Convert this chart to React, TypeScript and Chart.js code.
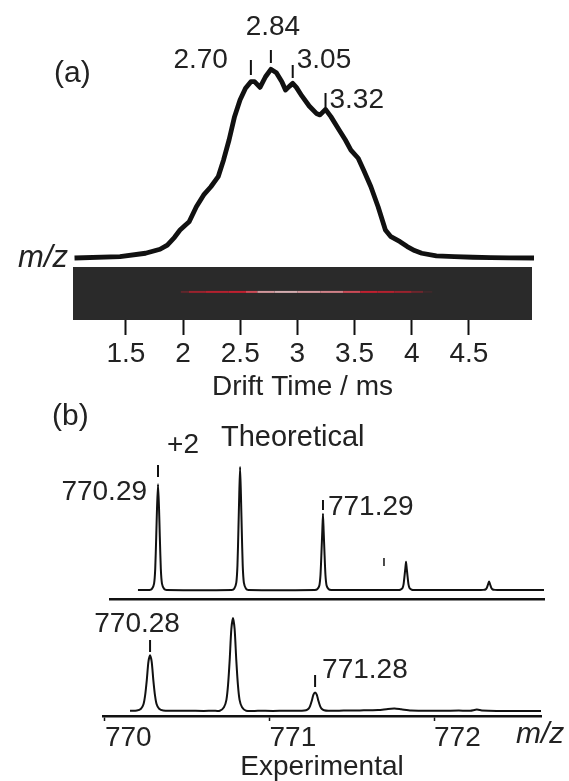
import React, { useEffect, useRef } from "react";
import { Chart, registerables } from "chart.js";

Chart.register(...registerables);

const FONT = "'Liberation Sans', Arial, Helvetica, sans-serif";
const TEXT = "#222";
const INK = "#111";
const W = 569;
const H = 781;

// ---------- Panel (a): drift-time profile ----------
const driftTimes = [
  1.05, 1.448, 1.671, 1.798, 1.862, 1.925, 1.973, 2.021, 2.053, 2.116,
  2.18, 2.243, 2.307, 2.354, 2.402, 2.45, 2.498, 2.546, 2.593, 2.625,
  2.673, 2.721, 2.768, 2.816, 2.864, 2.896, 2.927, 2.959, 2.991, 3.039,
  3.103, 3.166, 3.198, 3.246, 3.293, 3.357, 3.42, 3.468, 3.532, 3.579,
  3.643, 3.706, 3.77, 3.818, 3.898, 3.961, 4.025, 4.088, 4.216, 4.374,
  4.534, 4.693, 4.852, 5.07,
];
const driftIntensity = [
  0, 0.7, 2.5, 4.6, 6.8, 10.9, 14.7, 17.4, 19.1, 27.0,
  33.2, 37.5, 42.8, 51.6, 62.1, 74.4, 83.2, 89.3, 92.8, 92.8,
  89.8, 95.4, 99.3, 97.5, 92.8, 88.4, 90.2, 91.9, 89.8, 85.3,
  80.0, 76.1, 75.3, 78.2, 74.4, 68.2, 62.1, 56.8, 52.5, 46.3,
  37.5, 27.0, 14.7, 11.2, 8.6, 6.0, 3.9, 2.5, 1.1, 0.7,
  0.4, 0.2, 0.1, 0,
];
const driftTicks = [1.5, 2, 2.5, 3, 3.5, 4, 4.5];
const driftPeakLabels = ["2.70", "2.84", "3.05", "3.32"];
const driftPeakTimes = [2.593, 2.768, 2.959, 3.246];

// heat-map strip (m/z vs drift time image)
const heatTimes = [1.98, 2.05, 2.2, 2.4, 2.55, 2.65, 2.8, 3.0, 3.2, 3.4, 3.55, 3.7, 3.85, 4.0, 4.1, 4.18];
const heatLevels = [0.05, 0.35, 0.5, 0.55, 0.6, 0.8, 0.95, 0.9, 0.85, 0.8, 0.6, 0.55, 0.5, 0.35, 0.15, 0];

// ---------- Panel (b): isotope patterns ----------
const theoMz = [
  770.2,
  770.27, 770.285, 770.298, 770.305, 770.311, 770.316, 770.322, 770.328, 770.333, 770.339, 770.346, 770.359, 770.374,
  770.77, 770.785, 770.798, 770.805, 770.811, 770.816, 770.821, 770.826, 770.831, 770.837, 770.844, 770.857, 770.872,
  771.275, 771.29, 771.303, 771.31, 771.316, 771.321, 771.325, 771.329, 771.334, 771.34, 771.347, 771.36, 771.375,
  771.78, 771.795, 771.808, 771.815, 771.821, 771.826, 771.83, 771.834, 771.839, 771.845, 771.852, 771.865, 771.88,
  772.285, 772.3, 772.313, 772.32, 772.326, 772.331, 772.335, 772.339, 772.344, 772.35, 772.357, 772.37, 772.385,
  772.669,
];
const theoIntensity = [
  0,
  0, 0.9, 5.2, 17.2, 43, 67, 86, 67, 43, 17.2, 5.2, 0.9, 0,
  0, 1, 6, 20, 50, 78, 100, 78, 50, 20, 6, 1, 0,
  0, 0.6, 3.7, 12.4, 31, 48.4, 62, 48.4, 31, 12.4, 3.7, 0.6, 0,
  0, 0.2, 1.4, 4.6, 11.5, 17.9, 23, 17.9, 11.5, 4.6, 1.4, 0.2, 0,
  0, 0.1, 0.4, 1.4, 3.5, 5.5, 7, 5.5, 3.5, 1.4, 0.4, 0.1, 0,
  0,
];
const expMz = [
  770.152,
  770.194, 770.219, 770.234, 770.244, 770.254, 770.264, 770.274, 770.284, 770.294, 770.304, 770.314, 770.329, 770.354,
  770.42, 770.5, 770.6, 770.66,
  770.698, 770.723, 770.738, 770.748, 770.758, 770.768, 770.778, 770.788, 770.798, 770.808, 770.818, 770.833, 770.858,
  770.93, 771.02, 771.1, 771.16,
  771.197, 771.222, 771.237, 771.247, 771.257, 771.267, 771.277, 771.287, 771.297, 771.307, 771.317, 771.332, 771.357,
  771.45, 771.55, 771.66, 771.72, 771.76, 771.8, 771.86, 771.95, 772.05, 772.15, 772.22, 772.26, 772.29, 772.38, 772.5, 772.65,
];
const expIntensity = [
  0.3,
  0.5, 2.4, 7.2, 16.8, 33, 52.8, 60, 52.8, 33, 16.8, 7.2, 2.4, 0.5,
  0.3, 0.2, 0.1, 0.2,
  0.3, 4, 12, 28, 55, 88, 100, 88, 55, 28, 12, 4, 0.3,
  0.2, 0.1, 0.3, 0.2,
  0.2, 0.8, 2.4, 5.6, 11, 17.6, 20, 17.6, 11, 5.6, 2.4, 0.8, 0.2,
  0.4, 0.6, 1.0, 2.2, 2.6, 1.8, 0.5, 0.3, 0.2, 0.4, 0.3, 1.5, 0.6, 0.0, 0.1, 0.0,
];
const mzTicks = [770, 771, 772];
const theoPeakLabels = ["770.29", "771.29"];
const theoPeakMz = [770.322, 771.325];
const expPeakLabels = ["770.28", "771.28"];
const expPeakMz = [770.274, 771.277];
const strayMarkMz = 771.696;

// ---------- helpers ----------
const font = (size: number, style = "") => `${style} ${size}px ${FONT}`.trim();

function mix(a: number[], b: number[], f: number) {
  const c = a.map((v, i) => Math.round(v + (b[i] - v) * Math.max(0, Math.min(1, f))));
  return `rgb(${c[0]},${c[1]},${c[2]})`;
}
function heatColor(l: number) {
  const dark = [42, 42, 42];
  const red = [200, 32, 48];
  const light = [215, 205, 205];
  return l < 0.6 ? mix(dark, red, l / 0.6) : mix(red, light, (l - 0.6) / 0.4);
}

function vDash(ctx: CanvasRenderingContext2D, x: number, y0: number, y1: number) {
  ctx.beginPath();
  ctx.moveTo(x, y0);
  ctx.lineTo(x, y1);
  ctx.stroke();
}

const baseOptions = (padding: any, scales: any) => ({
  responsive: false,
  animation: false,
  events: [],
  layout: { padding },
  plugins: { legend: { display: false }, tooltip: { enabled: false }, title: { display: false } },
  scales,
});

// ---------- chart configs ----------
function makeCurve() {
  const annot = {
    id: "annotA",
    afterDatasetsDraw(chart: any) {
      const { ctx } = chart;
      const x = chart.scales.x;
      const y = chart.scales.y;
      ctx.save();
      ctx.fillStyle = TEXT;
      ctx.strokeStyle = INK;
      ctx.lineWidth = 2;
      ctx.textBaseline = "middle";
      ctx.font = font(30);
      ctx.textAlign = "left";
      ctx.fillText("(a)", 54, 74);
      ctx.font = font(31, "italic");
      ctx.textAlign = "right";
      ctx.fillText("m/z", 68, y.getPixelForValue(0));
      ctx.font = font(28);
      const layout = [
        { d0: 60, d1: 75, dx: -23, ty: 60, align: "right" },
        { d0: 50, d1: 63, dx: 2, ty: 27, align: "center" },
        { d0: 65, d1: 78, dx: 4, ty: 60, align: "left" },
        { d0: 93, d1: 107, dx: 4, ty: 100, align: "left" },
      ];
      driftPeakTimes.forEach((t, i) => {
        const px = x.getPixelForValue(t);
        const L = layout[i];
        vDash(ctx, px, L.d0, L.d1);
        ctx.textAlign = L.align;
        ctx.fillText(driftPeakLabels[i], px + L.dx, L.ty);
      });
      ctx.restore();
    },
  };
  return {
    type: "line",
    data: {
      datasets: [
        {
          data: driftTimes.map((t, i) => ({ x: t, y: driftIntensity[i] })),
          borderColor: INK,
          borderWidth: 4.8,
          pointRadius: 0,
          tension: 0,
          clip: false,
          borderJoinStyle: "round",
        },
      ],
    },
    options: baseOptions(
      { left: 73, right: W - 534, top: 68, bottom: H - 258 },
      {
        x: { type: "linear", display: false, min: 1.0367, max: 5.07 },
        y: { display: false, min: 0, max: 100 },
      }
    ),
    plugins: [annot],
  };
}

function makeHeat() {
  const bg = {
    id: "heatBg",
    beforeDatasetsDraw(chart: any) {
      const { ctx, chartArea: a } = chart;
      ctx.save();
      ctx.fillStyle = "#2a2a2a";
      ctx.fillRect(a.left, a.top, a.right - a.left, a.bottom - a.top);
      ctx.restore();
    },
  };
  return {
    type: "line",
    data: {
      datasets: [
        {
          data: heatTimes.map((t) => ({ x: t, y: 0.53 })),
          borderWidth: 2,
          borderColor: "rgb(200,32,48)",
          pointRadius: 0,
          segment: {
            borderColor: (c: any) => heatColor((heatLevels[c.p0DataIndex] + heatLevels[c.p1DataIndex]) / 2),
          },
        },
      ],
    },
    options: baseOptions(
      { left: 73, right: W - 532, top: 267, bottom: H - 406 },
      {
        x: {
          type: "linear",
          min: 1.0367,
          max: 5.0525,
          position: "bottom",
          afterBuildTicks: (s: any) => {
            s.ticks = driftTicks.map((v) => ({ value: v }));
          },
          afterFit: (s: any) => {
            s.height = 86;
          },
          grid: { display: true, drawOnChartArea: false, drawTicks: true, tickLength: 15, tickWidth: 2, tickColor: INK, color: INK },
          border: { display: false },
          ticks: {
            font: { family: FONT, size: 28 },
            color: TEXT,
            padding: 2,
            maxRotation: 0,
            autoSkip: false,
            callback: (v: any) => String(v),
          },
          title: {
            display: true,
            text: "Drift Time / ms",
            font: { family: FONT, size: 28 },
            color: TEXT,
            padding: { top: 0, bottom: 2 },
          },
        },
        y: { display: false, min: 0, max: 1 },
      }
    ),
    plugins: [bg],
  };
}

function makeTheo() {
  const annot = {
    id: "annotTheo",
    afterDatasetsDraw(chart: any) {
      const { ctx } = chart;
      const x = chart.scales.x;
      ctx.save();
      ctx.fillStyle = TEXT;
      ctx.strokeStyle = INK;
      ctx.lineWidth = 2;
      ctx.textBaseline = "middle";
      ctx.font = font(30);
      ctx.textAlign = "left";
      ctx.fillText("(b)", 52, 417);
      ctx.font = font(28);
      ctx.textAlign = "center";
      ctx.fillText("+2", 183, 445);
      ctx.font = font(29);
      ctx.textAlign = "left";
      ctx.fillText("Theoretical", 221, 438);
      ctx.font = font(28);
      const p0 = x.getPixelForValue(theoPeakMz[0]);
      vDash(ctx, p0, 465, 477);
      ctx.textAlign = "right";
      ctx.fillText(theoPeakLabels[0], p0 - 11, 492);
      const p1 = x.getPixelForValue(theoPeakMz[1]);
      vDash(ctx, p1, 500, 510);
      ctx.textAlign = "left";
      ctx.fillText(theoPeakLabels[1], p1 + 5, 507);
      ctx.lineWidth = 1.5;
      vDash(ctx, x.getPixelForValue(strayMarkMz), 558, 566);
      ctx.restore();
    },
  };
  return {
    type: "line",
    data: {
      datasets: [
        {
          data: theoMz.map((m, i) => ({ x: m, y: theoIntensity[i] })),
          borderColor: INK,
          borderWidth: 2,
          pointRadius: 0,
          tension: 0.2,
          clip: false,
        },
      ],
    },
    options: baseOptions(
      { left: 110, right: W - 544, top: 467, bottom: H - 599 },
      {
        x: {
          type: "linear",
          min: 770.03,
          max: 772.669,
          ticks: { display: false },
          grid: { display: false },
          border: { display: true, color: INK, width: 2.5 },
          afterFit: (s: any) => {
            s.height = 0;
          },
        },
        y: { display: false, min: -7.32, max: 100 },
      }
    ),
    plugins: [annot],
  };
}

function makeExp() {
  const annot = {
    id: "annotExp",
    afterDatasetsDraw(chart: any) {
      const { ctx } = chart;
      const x = chart.scales.x;
      ctx.save();
      ctx.fillStyle = TEXT;
      ctx.strokeStyle = INK;
      ctx.lineWidth = 2;
      ctx.textBaseline = "middle";
      ctx.font = font(28);
      const p0 = x.getPixelForValue(expPeakMz[0]);
      vDash(ctx, p0, 640, 652);
      ctx.textAlign = "center";
      ctx.fillText(expPeakLabels[0], p0 - 13, 624);
      const p1 = x.getPixelForValue(expPeakMz[1]);
      vDash(ctx, p1, 675, 687);
      ctx.textAlign = "left";
      ctx.fillText(expPeakLabels[1], p1 + 7, 670);
      ctx.font = font(30, "italic");
      ctx.fillText("m/z", 516, 735);
      ctx.restore();
    },
  };
  return {
    type: "line",
    data: {
      datasets: [
        {
          data: expMz.map((m, i) => ({ x: m, y: expIntensity[i] })),
          borderColor: INK,
          borderWidth: 2,
          pointRadius: 0,
          tension: 0.25,
          clip: false,
        },
      ],
    },
    options: baseOptions(
      { left: 103, right: W - 541, top: 618, bottom: 0 },
      {
        x: {
          type: "linear",
          min: 769.988,
          max: 772.65,
          afterBuildTicks: (s: any) => {
            s.ticks = mzTicks.map((v) => ({ value: v }));
          },
          afterFit: (s: any) => {
            s.height = 65;
          },
          grid: { display: true, drawOnChartArea: false, drawTicks: true, tickLength: 5, tickWidth: 1.5, tickColor: INK, color: INK },
          border: { display: true, color: INK, width: 2.5 },
          ticks: {
            font: { family: FONT, size: 28 },
            color: TEXT,
            padding: 0,
            align: "start",
            maxRotation: 0,
            autoSkip: false,
            callback: (v: any) => String(v),
          },
          title: {
            display: true,
            text: "Experimental",
            font: { family: FONT, size: 28, lineHeight: 1 },
            color: TEXT,
            padding: { top: 0, bottom: 0 },
          },
        },
        y: { display: false, min: -5.4, max: 100 },
      }
    ),
    plugins: [annot],
  };
}

function ChartLayer({ make }: { make: () => any }) {
  const ref = useRef<HTMLCanvasElement>(null);
  useEffect(() => {
    if (!ref.current) return;
    const chart = new Chart(ref.current, make());
    return () => chart.destroy();
  }, [make]);
  return (
    <canvas
      ref={ref}
      width={W}
      height={H}
      style={{ position: "absolute", left: 0, top: 0, width: W, height: H }}
    />
  );
}

export default function App() {
  return (
    <div style={{ position: "absolute", left: 0, top: 0, width: W, height: H, background: "#fff", overflow: "hidden" }}>
      <ChartLayer make={makeCurve} />
      <ChartLayer make={makeHeat} />
      <ChartLayer make={makeTheo} />
      <ChartLayer make={makeExp} />
    </div>
  );
}
